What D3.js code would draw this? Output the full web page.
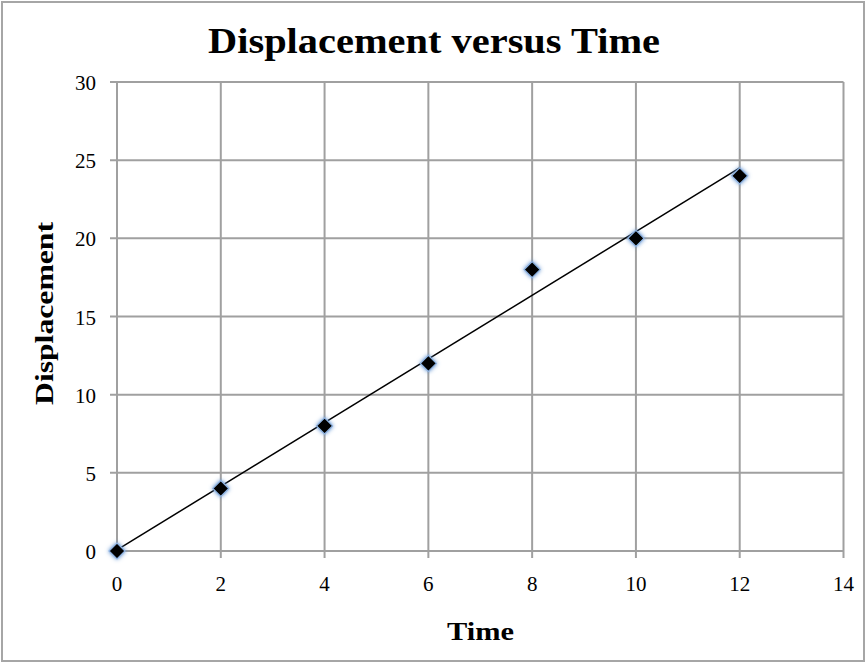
<!DOCTYPE html>
<html><head><meta charset="utf-8">
<script src="https://cdn.jsdelivr.net/npm/d3@7"></script>
<style>body{margin:0;background:#fff}svg{display:block}</style>
</head><body>
<script>
const timeValues = [0, 2, 4, 6, 8, 10, 12];
const displacementValues = [0, 4, 8, 12, 18, 20, 24];
const xTicks = [0, 2, 4, 6, 8, 10, 12, 14];
const yTicks = [0, 5, 10, 15, 20, 25, 30];

const W = 867, H = 663;
const svg = d3.select("body").append("svg").attr("width", W).attr("height", H);
svg.append("rect").attr("x", 2).attr("y", 2).attr("width", W - 5).attr("height", H - 4)
  .attr("fill", "#fff").attr("stroke", "#a6a6a6").attr("stroke-width", 2);

const x = d3.scaleLinear().domain([0, 14]).range([117, 843.5]);
const y = d3.scaleLinear().domain([0, 30]).range([551, 82]);
const serif = "'Liberation Serif', 'DejaVu Serif', serif";
const grid = "#a0a0a0";

const g = svg.append("g");
g.selectAll(".hg").data(yTicks).join("line")
  .attr("x1", x(0) - 7).attr("x2", x(14)).attr("y1", d => y(d)).attr("y2", d => y(d))
  .attr("stroke", grid).attr("stroke-width", 2);
g.selectAll(".vg").data(xTicks).join("line")
  .attr("x1", d => x(d)).attr("x2", d => x(d)).attr("y1", y(30)).attr("y2", y(0) + 7)
  .attr("stroke", grid).attr("stroke-width", 2);

g.selectAll(".yl").data(yTicks).join("text")
  .attr("x", 96).attr("y", d => y(d) + 8).attr("text-anchor", "end")
  .attr("font-family", serif).attr("font-size", 21).attr("fill", "#000").text(d => d);
g.selectAll(".xl").data(xTicks).join("text")
  .attr("x", d => x(d)).attr("y", 591).attr("text-anchor", "middle")
  .attr("font-family", serif).attr("font-size", 21).attr("fill", "#000").text(d => d);

// linear trendline from the data (least squares)
const mx = d3.mean(timeValues), my = d3.mean(displacementValues);
let sxy = 0, sxx = 0;
timeValues.forEach((t, i) => { sxy += (t - mx) * (displacementValues[i] - my); sxx += (t - mx) ** 2; });
const slope = sxy / sxx, icpt = my - slope * mx;
const x0 = d3.min(timeValues), x1 = d3.max(timeValues);
g.append("line").attr("x1", x(x0)).attr("y1", y(icpt + slope * x0))
  .attr("x2", x(x1)).attr("y2", y(icpt + slope * x1))
  .attr("stroke", "#000").attr("stroke-width", 1.5);

const defs = svg.append("defs");
const f = defs.append("filter").attr("id", "glow").attr("x", "-60%").attr("y", "-60%").attr("width", "220%").attr("height", "220%");
f.append("feGaussianBlur").attr("in", "SourceAlpha").attr("stdDeviation", 2.2).attr("result", "b");
f.append("feFlood").attr("flood-color", "#5b8fd0");
f.append("feComposite").attr("in2", "b").attr("operator", "in").attr("result", "c");
const m = f.append("feMerge"); m.append("feMergeNode").attr("in", "c"); m.append("feMergeNode").attr("in", "SourceGraphic");

const s = 8;
g.selectAll(".pt").data(timeValues).join("path")
  .attr("d", (d, i) => { const cx = x(d), cy = y(displacementValues[i]);
    return `M${cx},${cy - s}L${cx + s},${cy}L${cx},${cy + s}L${cx - s},${cy}Z`; })
  .attr("fill", "#000").attr("stroke", "#8fb4e3").attr("stroke-width", 1.2).attr("filter", "url(#glow)");

svg.append("text").attr("x", 208).attr("y", 53).attr("textLength", 452).attr("lengthAdjust", "spacingAndGlyphs")
  .attr("font-family", serif).attr("font-weight", "bold").attr("font-size", 35).text("Displacement versus Time");
svg.append("text").attr("x", 447).attr("y", 640).attr("textLength", 67).attr("lengthAdjust", "spacingAndGlyphs")
  .attr("font-family", serif).attr("font-weight", "bold").attr("font-size", 26).text("Time");
svg.append("text").attr("transform", "translate(53,405) rotate(-90)").attr("textLength", 183).attr("lengthAdjust", "spacingAndGlyphs")
  .attr("font-family", serif).attr("font-weight", "bold").attr("font-size", 25).text("Displacement");
</script>
</body></html>
